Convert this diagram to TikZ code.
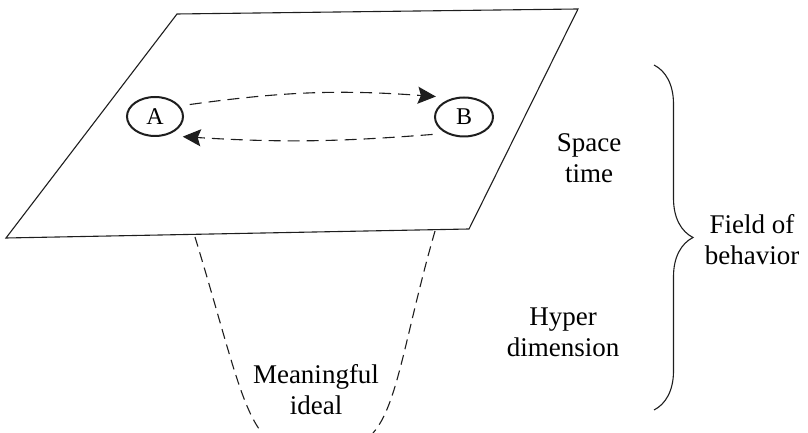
\documentclass[tikz,border=0pt]{standalone}
\usepackage{fontspec}
\setmainfont{Liberation Serif}
\usepackage{tikz}
\definecolor{DarkText}{RGB}{30,30,30}
\usetikzlibrary{
    arrows.meta,
    positioning,
    shapes.geometric,
    decorations.pathreplacing
}

\begin{document}
\begin{tikzpicture}[x=1pt,y=1pt]
%
    \useasboundingbox
    (0,0)
    rectangle
    (808,433);
%
    % plane of space time
%
    \draw[
        DarkText,
        line width=1.1pt,
        line join=miter
    ]
    (177,419)
    --
    (578,424)
    --
    (469,204)
    --
    (6,195)
    --
    cycle;
%
    % funnel of the hyper dimension
%
    \draw[
        DarkText,
        line width=1.1pt,
        dash pattern=on 10pt off 6pt
    ]
    (195,196)
    .. controls (228,88) and (240,28) ..
    (262,0);
%
    \draw[
        DarkText,
        line width=1.1pt,
        dash pattern=on 10pt off 6pt
    ]
    (435,202)
    .. controls (405,98) and (398,28) ..
    (373,0);
%
    \node[
        ellipse,
        draw=DarkText,
        line width=2pt,
        minimum width=56pt,
        minimum height=39pt,
        inner sep=0pt,
        outer sep=10pt,
        font=\fontsize{24}{28}\selectfont
    ]
    (A) at (155,316.5) {
        A
    };
%
    \node[
        ellipse,
        draw=DarkText,
        line width=2pt,
        minimum width=58pt,
        minimum height=39pt,
        inner sep=0pt,
        outer sep=10pt,
        font=\fontsize{24}{28}\selectfont
    ]
    (B) at (464,316) {
        B
    };
%
    % movement between A and B
%
    \draw[
        DarkText,
        line width=1.1pt,
        dash pattern=on 12pt off 7pt,
        -{Stealth[length=18pt,width=17pt,inset=3pt]}
    ]
    (A.19)
    to[bend left=6]
    (B.144);
%
    \draw[
        DarkText,
        line width=1.1pt,
        dash pattern=on 12pt off 7pt,
        -{Stealth[length=18pt,width=17pt,inset=3pt]}
    ]
    (B.209)
    to[bend left=4]
    (A.-36);
%
    \node[
        align=center,
        anchor=base,
        font=\fontsize{27}{31.5}\selectfont
    ]
    (spacetime) at (589,250) {
        Space\\time
    };
%
    \node[
        align=center,
        anchor=base,
        font=\fontsize{27}{31.5}\selectfont
    ]
    (hyperdim) at (563,76) {
        Hyper\\dimension
    };
%
    \node[
        align=center,
        anchor=base,
        font=\fontsize{27}{31.5}\selectfont
    ]
    (ideal) at (316,18) {
        Meaningful\\ideal
    };
%
    % brace round the whole field
%
    \draw[
        DarkText,
        line width=1.1pt,
        decorate,
        decoration={brace,amplitude=39pt}
    ]
    (654,368)
    --
    (654,23);
%
    \node[
        align=center,
        anchor=base,
        font=\fontsize{27}{31.5}\selectfont
    ]
    (field) at (752,168) {
        Field of\\behavior
    };
%
\end{tikzpicture}
\end{document}
